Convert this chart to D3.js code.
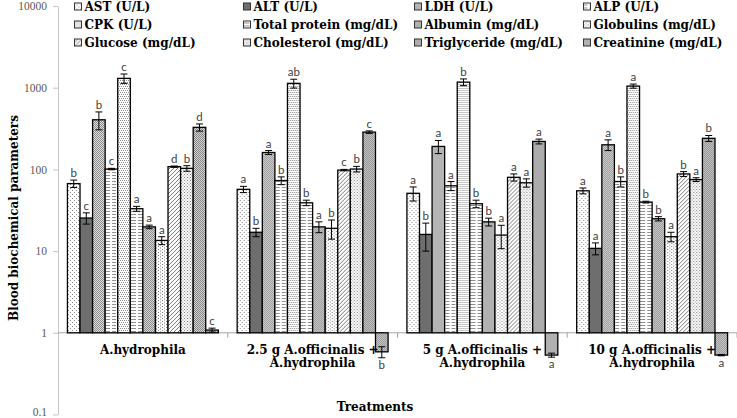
<!DOCTYPE html>
<html>
<head>
<meta charset="utf-8">
<script src="https://cdn.jsdelivr.net/npm/d3@7"></script>
<style>
  html, body { margin: 0; padding: 0; background: #fff; }
  svg { display: block; }
</style>
</head>
<body>
<svg id="chart" width="737" height="418"></svg>
<script>
// ---------------- data ----------------
const treatments = [
  "A.hydrophila",
  "2.5 g A.officinalis + A.hydrophila",
  "5 g A.officinalis + A.hydrophila",
  "10 g A.officinalis + A.hydrophila"
];
const treatmentLines = [
  ["A.hydrophila"],
  ["2.5 g A.officinalis +", "A.hydrophila"],
  ["5 g A.officinalis +", "A.hydrophila"],
  ["10 g A.officinalis +", "A.hydrophila"]
];
const parameters = [
  "AST (U/L)", "ALT (U/L)", "LDH (U/L)", "ALP (U/L)",
  "CPK (U/L)", "Total protein (mg/dL)", "Albumin (mg/dL)", "Globulins (mg/dL)",
  "Glucose (mg/dL)", "Cholesterol (mg/dL)", "Triglyceride (mg/dL)", "Creatinine (mg/dL)"
];
// means per treatment, in parameter order
const valuesHydrophila = [67, 25.4, 405, 101, 1300, 33, 19.8, 13.5, 108, 103, 327, 1.08];
const values25g        = [57, 17, 161, 73, 1130, 39, 19.8, 19, 98, 101, 286, 0.585];
const values5g         = [51, 16, 191, 63, 1170, 38, 22.8, 15.7, 80, 68.6, 220, 0.533];
const values10g        = [54.7, 10.8, 200, 71, 1047, 39.8, 24.9, 15, 88, 75, 240, 0.533];
// error (± value)
const errorsHydrophila = [7, 4, 100, 2, 170, 2.3, 1, 1.5, 2, 8, 33, 0.06];
const errors25g        = [5, 2, 9, 8, 140, 3, 3, 5, 2, 8, 10, 0.09];
const errors5g         = [10, 6, 35, 8, 110, 4, 2.5, 5, 8, 8, 15, 0.03];
const errors10g        = [4.5, 1.8, 30, 10, 60, 1, 1.5, 2, 6, 4, 20, 0.01];
// significance letters
const lettersHydrophila = ["b","c","b","c","c","a","a","a","d","b","d","c"];
const letters25g        = ["a","b","a","b","ab","b","a","b","c","b","c","b"];
const letters5g         = ["a","b","a","a","b","b","b","a","a","a","a","a"];
const letters10g        = ["a","a","a","b","a","b","b","a","b","a","b","a"];
const yTickValues = [0.1, 1, 10, 100, 1000, 10000];
const yTickLabels = ["0.1", "1", "10", "100", "1000", "10000"];

const allValues  = [valuesHydrophila, values25g, values5g, values10g];
const allErrors  = [errorsHydrophila, errors25g, errors5g, errors10g];
const allLetters = [lettersHydrophila, letters25g, letters5g, letters10g];

// ---------------- setup ----------------
const svg = d3.select("#chart");
const defs = svg.append("defs");
const serifBold = "'DejaVu Serif', serif";

// pattern fills (Excel-like)
function pat(id, w, h, bg, draw) {
  const p = defs.append("pattern").attr("id", id)
    .attr("patternUnits", "userSpaceOnUse").attr("width", w).attr("height", h);
  p.append("rect").attr("width", w).attr("height", h).attr("fill", bg);
  draw(p);
}
function dots(p, pts, c) {
  pts.forEach(([a, b]) => p.append("rect").attr("x", a).attr("y", b).attr("width", 1).attr("height", 1).attr("fill", c));
}
pat("p0", 4, 4, "#ffffff", p => dots(p, [[0,0],[2,2]], "#8a8a8a"));
pat("p1", 2, 2, "#6e6e6e", p => {});
pat("p2", 2, 2, "#dedede", p => dots(p, [[0,0],[1,1]], "#8c8c8c"));
pat("p3", 6, 3, "#ffffff", p => p.append("rect").attr("x",0).attr("y",1).attr("width",4).attr("height",1).attr("fill","#8f8f8f"));
pat("p4", 4, 4, "#ffffff", p => dots(p, [[0,0],[2,0],[1,2],[3,2]], "#8a8a8a"));
pat("p5", 8, 3, "#ffffff", p => p.append("rect").attr("x",0).attr("y",1).attr("width",6).attr("height",1).attr("fill","#8f8f8f"));
pat("p6", 2, 2, "#d6d6d6", p => dots(p, [[0,0],[1,1]], "#8c8c8c"));
pat("p7", 4, 3, "#ffffff", p => dots(p, [[0,0],[2,1.5]], "#7a7a7a"));
pat("p8", 4, 4, "#ffffff", p => {
  p.append("path").attr("d", "M-1,1 L1,-1 M0,4 L4,0 M3,5 L5,3").attr("stroke", "#7a7a7a").attr("stroke-width", 1);
});
pat("p9", 3, 3, "#ffffff", p => dots(p, [[0,0],[1.5,1.5]], "#7f7f7f"));
pat("p10", 2, 2, "#d2d2d2", p => dots(p, [[0,0],[1,1]], "#858585"));
pat("p11", 2, 2, "#d8d8d8", p => dots(p, [[0,0],[1,1]], "#888888"));

// ---------------- scales ----------------
const x0 = d3.scaleBand().domain(treatments).range([58, 737]).padding(0);
const x1 = d3.scaleBand().domain(parameters).range([0, x0.bandwidth()]).paddingInner(0).paddingOuter(0.75);
const y = d3.scaleLog().domain([0.1, 10000]).range([414.5, 6]);
const color = d3.scaleOrdinal().domain(parameters).range(parameters.map((d, i) => `url(#p${i})`));

// ---------------- axes ----------------
const yAxis = d3.axisLeft(y).tickValues(yTickValues)
  .tickFormat((d, i) => yTickLabels[i]).tickSize(5).tickPadding(6).tickSizeOuter(0);
const gy = svg.append("g").attr("transform", "translate(58,0)").call(yAxis);
gy.select(".domain").attr("stroke", "#c6c6c6");
gy.selectAll(".tick line").attr("stroke", "#c6c6c6");
gy.selectAll(".tick text").attr("fill", "#595959")
  .style("font-family", "'Liberation Serif', serif").style("font-size", "11.5px");
// keep the lowest label inside the picture
gy.selectAll(".tick text").filter(d => d === yTickValues[0]).attr("dy", "0.05em");

// horizontal axis crossing at 1
const y1 = y(1);
const boundaries = treatments.map(t => x0(t)).concat([x0.range()[1]]);
svg.append("line").attr("x1", 58).attr("x2", 737).attr("y1", y1).attr("y2", y1)
  .attr("stroke", "#a6a6a6").attr("stroke-width", 1);
svg.selectAll(".xtick").data(boundaries.slice(1)).enter().append("line")
  .attr("x1", d => d).attr("x2", d => d).attr("y1", y1).attr("y2", y1 + 5)
  .attr("stroke", "#a6a6a6");

// ---------------- bars ----------------
const groups = svg.selectAll(".grp").data(treatments).enter().append("g")
  .attr("transform", t => `translate(${x0(t)},0)`);

groups.each(function(t, gi) {
  const g = d3.select(this);
  const rows = parameters.map((p, i) => ({
    p, v: allValues[gi][i], e: allErrors[gi][i], l: allLetters[gi][i]
  }));
  g.selectAll("rect").data(rows).enter().append("rect")
    .attr("x", d => x1(d.p))
    .attr("width", x1.bandwidth())
    .attr("y", d => Math.min(y(d.v), y1))
    .attr("height", d => Math.abs(y(d.v) - y1))
    .attr("fill", d => color(d.p))
    .attr("stroke", "#000").attr("stroke-width", 1.3);

  const eb = g.selectAll(".eb").data(rows).enter().append("g");
  const cx = d => x1(d.p) + x1.bandwidth() / 2;
  eb.append("line").attr("x1", cx).attr("x2", cx)
    .attr("y1", d => y(d.v - d.e)).attr("y2", d => y(d.v + d.e))
    .attr("stroke", "#000").attr("stroke-width", 1);
  eb.append("line").attr("x1", d => cx(d) - 3.5).attr("x2", d => cx(d) + 3.5)
    .attr("y1", d => y(d.v + d.e)).attr("y2", d => y(d.v + d.e))
    .attr("stroke", "#000").attr("stroke-width", 1);
  eb.append("line").attr("x1", d => cx(d) - 3.5).attr("x2", d => cx(d) + 3.5)
    .attr("y1", d => y(d.v - d.e)).attr("y2", d => y(d.v - d.e))
    .attr("stroke", "#000").attr("stroke-width", 1);

  g.selectAll(".lt").data(rows).enter().append("text")
    .attr("x", cx)
    .attr("y", d => d.v >= 1 ? y(d.v + d.e) - 3 : y(d.v - d.e) + 11)
    .attr("text-anchor", "middle")
    .attr("fill", "#404040")
    .style("font-family", "Lato, 'Liberation Sans', sans-serif")
    .style("font-size", "11.5px")
    .text(d => d.l);
});

// category labels
svg.selectAll(".cat").data(treatments).enter().append("text")
  .attr("x", t => x0(t) + x0.bandwidth() / 2)
  .attr("y", 353.5)
  .attr("text-anchor", "middle")
  .style("font-family", serifBold).style("font-weight", "bold").style("font-size", "12px")
  .attr("fill", "#000")
  .each(function(t, i) {
    const el = d3.select(this);
    treatmentLines[i].forEach((ln, k) => {
      el.append("tspan").attr("x", x0(t) + x0.bandwidth() / 2).attr("dy", k === 0 ? 0 : 13.7).text(ln);
    });
  });

// axis titles
svg.append("text").attr("x", 375).attr("y", 411).attr("text-anchor", "middle")
  .style("font-family", serifBold).style("font-weight", "bold").style("font-size", "12px")
  .text("Treatments");
svg.append("text").attr("transform", "translate(18,218) rotate(-90)").attr("text-anchor", "middle")
  .style("font-family", serifBold).style("font-weight", "bold").style("font-size", "12px")
  .text("Blood biochemical parameters");

// ---------------- legend ----------------
const legX = [74.5, 243.5, 414.5, 583.5];
const legY = [6.5, 24.5, 42.5];
const leg = svg.selectAll(".leg").data(parameters).enter().append("g")
  .attr("transform", (d, i) => `translate(${legX[i % 4]},${legY[Math.floor(i / 4)]})`);
leg.append("rect").attr("x", 0).attr("y", -3.5).attr("width", 7).attr("height", 7)
  .attr("fill", d => color(d)).attr("stroke", "#333").attr("stroke-width", 1);
leg.append("text").attr("x", 10).attr("y", 4.3)
  .style("font-family", serifBold).style("font-weight", "bold").style("font-size", "12px")
  .attr("fill", "#000")
  .text(d => d);
</script>
</body>
</html>
